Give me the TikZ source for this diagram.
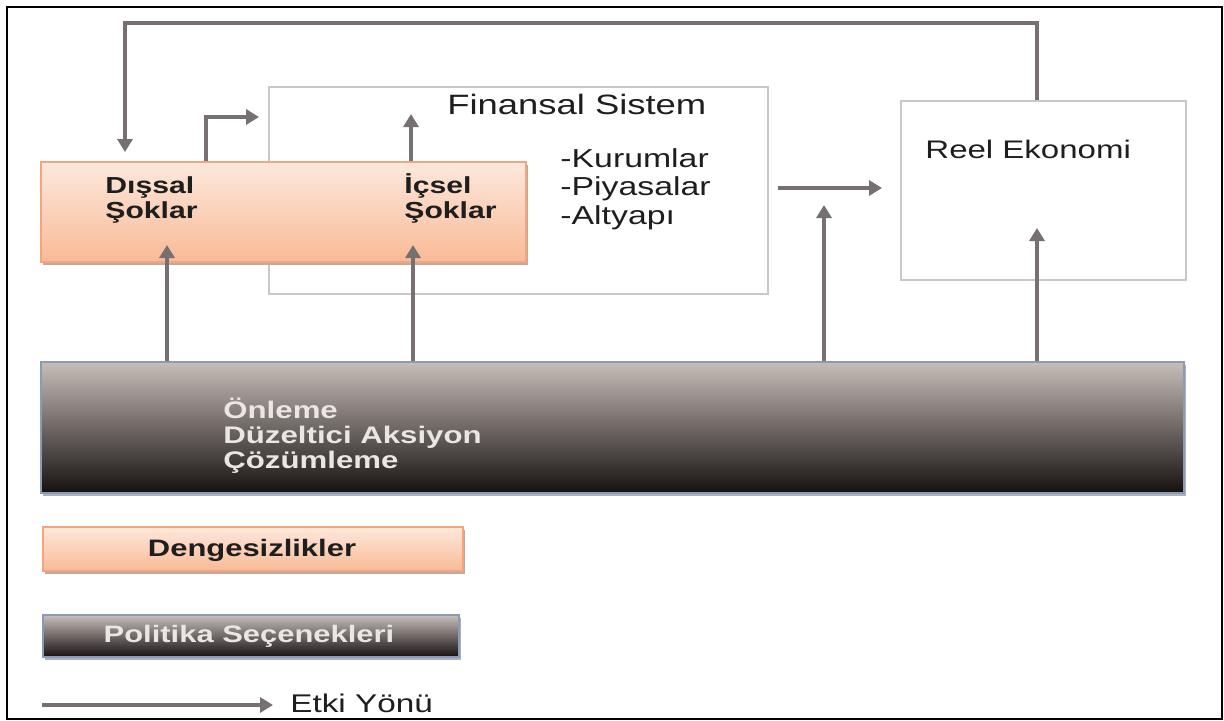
\documentclass[tikz,border=0pt]{standalone}
\usepackage{fontspec}
\setmainfont{Liberation Sans}[FakeStretch=1.3]
\usetikzlibrary{arrows.meta}

\definecolor{flowgray}{RGB}{118,112,112}
\definecolor{thinframe}{RGB}{200,200,200}
\definecolor{peachtop}{RGB}{253,232,220}
\definecolor{peachbot}{RGB}{249,186,150}
\definecolor{peachline}{RGB}{242,165,127}
\definecolor{peachshadow}{RGB}{190,170,160}
\definecolor{darktop}{RGB}{199,190,185}
\definecolor{darkmid}{RGB}{120,110,106}
\definecolor{darkbot}{RGB}{22,17,16}
\definecolor{slateline}{RGB}{140,155,180}
\definecolor{slateshadow}{RGB}{170,178,192}
\definecolor{inktext}{RGB}{30,30,30}
\definecolor{palettext}{RGB}{234,230,228}

\tikzset{
  plainbox/.style={draw=thinframe, line width=0.8pt, fill=white, inner sep=0pt, anchor=north west},
  shockbox/.style={draw=peachline, line width=1pt, top color=peachtop, bottom color=peachbot, inner sep=0pt, anchor=north west},
  policybox/.style={draw=slateline, line width=1pt, top color=darktop, middle color=darkmid, bottom color=darkbot, inner sep=0pt, anchor=north west},
  flow/.style={draw=flowgray, line width=1.6pt, -{Triangle[length=6.5pt,width=7.5pt]}},
  darklabel/.style={inner sep=0pt, anchor=base west, text=inktext, align=left},
  lightlabel/.style={inner sep=0pt, anchor=base west, text=palettext, align=left},
}

\begin{document}
\begin{tikzpicture}[x=0.5pt,y=-0.5pt]
\useasboundingbox (0,0) rectangle (1224,720);
\fill[white] (0,0) rectangle (1224,720);
% outer frame
\draw[black, line width=1.2pt] (7,7) rectangle (1222,719);

% financial system and real economy
\node[plainbox, minimum width=249.5pt, minimum height=103.5pt] (fin) at (268,86) {};
\node[plainbox, minimum width=142.5pt, minimum height=89.5pt] (reel) at (900,100) {};

% shocks box with its shadow
\fill[peachshadow] (43,165) rectangle (528,265);
\node[shockbox, minimum width=242.5pt, minimum height=50pt] (shocks) at (40,161) {};

% policy bar with its shadow
\fill[slateshadow] (43,365) rectangle (1186,496);
\node[policybox, minimum width=571.5pt, minimum height=65.5pt] (bar) at (40,361) {};

% legend boxes
\fill[peachshadow] (45,530) rectangle (465,574);
\node[shockbox, minimum width=210pt, minimum height=22pt] (keyshock) at (42,526) {};
\fill[slateshadow] (45,618) rectangle (461,660);
\node[policybox, minimum width=208pt, minimum height=21pt] (keypolicy) at (42,614) {};

% texts (multi-line nodes are anchored on their last baseline)
\node[darklabel, font=\fontsize{14}{15}\selectfont] (fintitle) at (447,114) {Finansal Sistem};
\node[darklabel, font=\fontsize{13}{14.2}\selectfont] (finlist) at (560,224) {-Kurumlar\\-Piyasalar\\-Altyapı};
\node[darklabel, font=\fontsize{12.7}{14}\selectfont] (reeltitle) at (925,158) {Reel Ekonomi};
\node[darklabel, font=\fontsize{11.6}{12.2}\selectfont\bfseries] (outer) at (105,218) {Dışsal\\Şoklar};
\node[darklabel, font=\fontsize{11.6}{12.2}\selectfont\bfseries] (inner) at (404,218) {İçsel\\Şoklar};
\node[lightlabel, font=\fontsize{12}{12.5}\selectfont\bfseries] (acts) at (223,468) {Önleme\\Düzeltici Aksiyon\\Çözümleme};
\node[inner sep=0pt, anchor=base, text=inktext, font=\fontsize{11.9}{13}\selectfont\bfseries] (keyshocktext) at (252,556) {Dengesizlikler};
\node[inner sep=0pt, anchor=base, text=palettext, font=\fontsize{11.9}{13}\selectfont\bfseries] (keypolicytext) at (249,642) {Politika Seçenekleri};
\node[darklabel, font=\fontsize{12.8}{14}\selectfont] (keyflow) at (290,712) {Etki Yönü};

% connector end points
\coordinate (loopR) at (1037,23);
\coordinate (loopL) at (125,23);
\coordinate (loopTip) at (125,152);
\coordinate (outBend) at (206,117);
\coordinate (outTip) at (259,117);
\coordinate (inTip) at (411,114);
\coordinate (frA) at (778,188);
\coordinate (frB) at (882,188);
\coordinate (upA) at (167,245);
\coordinate (upB) at (413,245);
\coordinate (upC) at (824,205);
\coordinate (upD) at (1037,228);
\coordinate (keyA) at (42,705);
\coordinate (keyB) at (273,705);

% feedback from the real economy to the external shocks
\draw[flow] (reel.north -| loopR) -- (loopR) -- (loopL) -- (loopTip);
% shocks into the financial system
\draw[flow] (shocks.north -| outBend) -- (outBend) -- (outTip);
\draw[flow] (shocks.north -| inTip) -- (inTip);
% financial system to the real economy
\draw[flow] (frA) -- (frB);
% policy options acting upward
\draw[flow] (bar.north -| upA) -- (upA);
\draw[flow] (bar.north -| upB) -- (upB);
\draw[flow] (bar.north -| upC) -- (upC);
\draw[flow] (bar.north -| upD) -- (upD);
% legend arrow
\draw[flow] (keyA) -- (keyB);
\end{tikzpicture}
\end{document}
